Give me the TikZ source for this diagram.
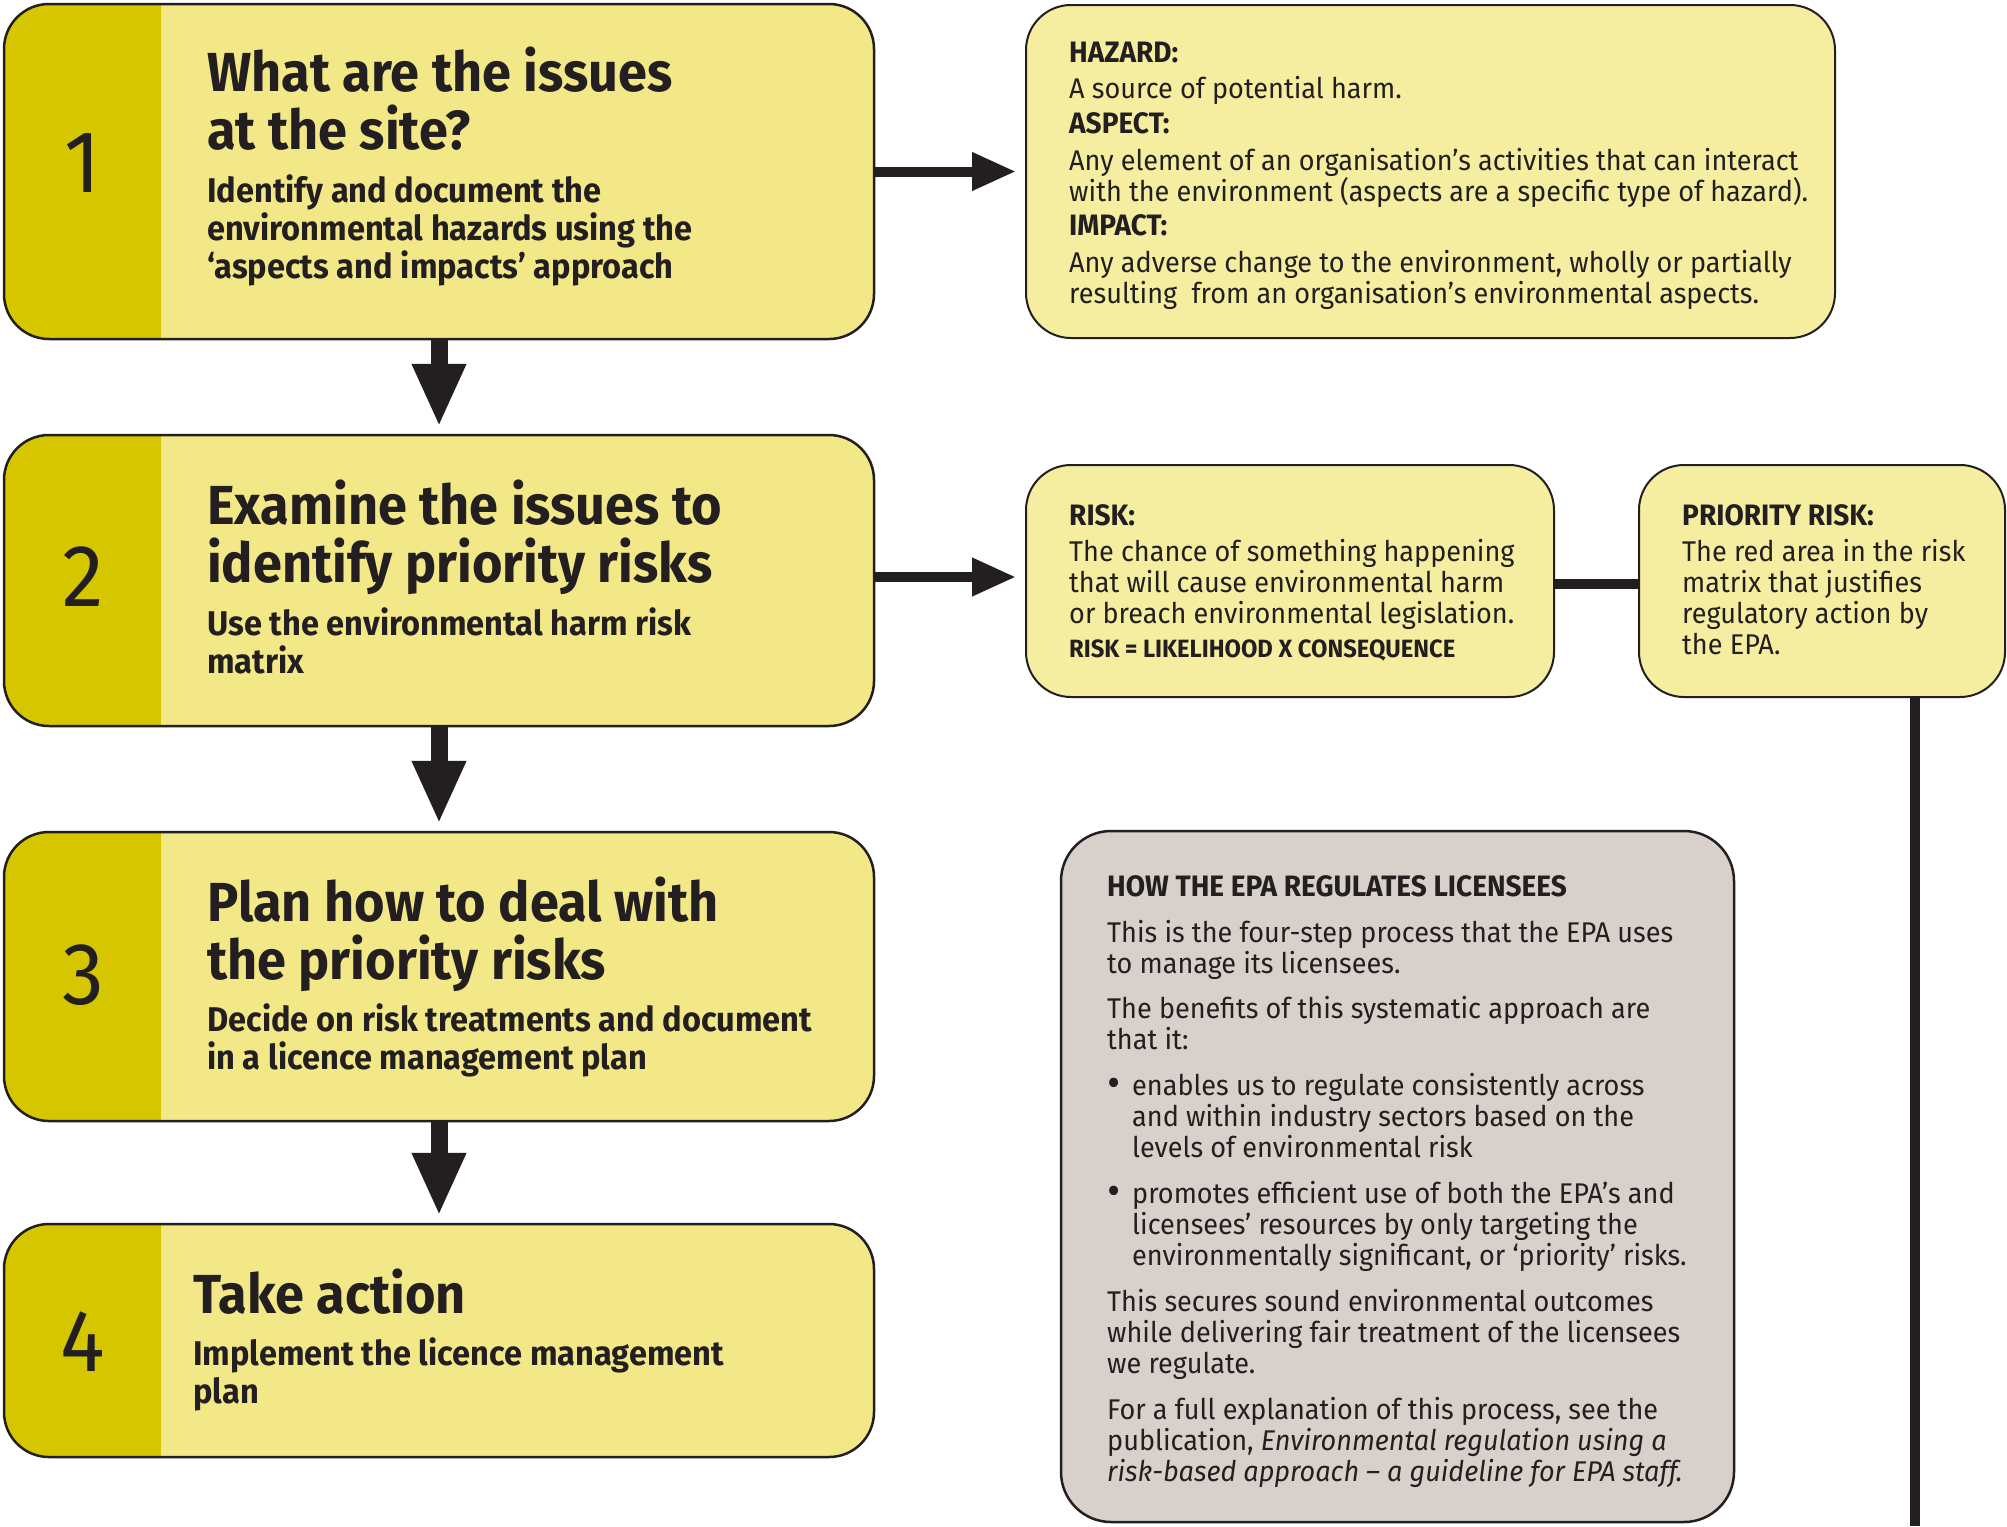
\documentclass[tikz,border=0pt]{standalone}
\usepackage{fontspec}
\setmainfont{Fira Sans}[FakeStretch=0.95]
\usetikzlibrary{arrows.meta}
\definecolor{ink}{HTML}{231F20}
\definecolor{strip}{HTML}{D6C600}
\definecolor{stepfill}{HTML}{F3E887}
\definecolor{deffill}{HTML}{F5EEA0}
\definecolor{epafill}{HTML}{D8D1CB}
\newcommand\blk[1]{\vtop{\halign{##\hfil\cr#1\crcr}}}
\tikzset{
  stepbox/.style={draw=ink, line width=2.5pt, fill=stepfill, rounded corners=45pt,
    inner sep=0pt, path picture={\fill[strip, sharp corners] ([xshift=-5pt,yshift=5pt]path picture bounding box.north west) rectangle ([xshift=157pt,yshift=-5pt]path picture bounding box.south west);}},
  defbox/.style={draw=ink, line width=2pt, fill=deffill, rounded corners=45pt, inner sep=0pt},
  epabox/.style={draw=ink, line width=2.5pt, fill=epafill, rounded corners=50pt, inner sep=0pt},
  txt/.style={anchor=base west, inner sep=0pt, text=ink},
  num/.style={anchor=center, inner sep=0pt, text=ink, font={\fontsize{88}{88}\selectfont}},
  ttl/.style={txt, font={\bfseries\fontsize{55}{58}\selectfont}},
  sub/.style={txt, font={\bfseries\fontsize{34.3}{38}\selectfont}},
  dhead/.style={txt, font={\bfseries\fontsize{29.5}{31}\selectfont}},
  dbody/.style={txt, font={\fontsize{28.5}{31}\selectfont}},
  bul/.style={anchor=center, inner sep=0pt, text=ink, font={\bfseries\fontsize{34}{34}\selectfont}},
  darrow/.style={draw=ink, line width=17pt, -{Triangle[length=63pt,width=50pt]}, shorten >=7pt},
  rarrow/.style={draw=ink, line width=10pt, -{Triangle[length=44pt,width=36pt]}, shorten >=9pt},
  conn/.style={draw=ink, line width=10pt}
}
\begin{document}
\begin{tikzpicture}[x=1pt,y=-1pt]
\useasboundingbox[fill=white] (0,0) rectangle (2007,1526);
% step boxes
\node[stepbox, minimum width=870pt, minimum height=335pt] (b1) at (439,171.5) {};
\node[stepbox, minimum width=870pt, minimum height=291pt] (b2) at (439,580.5) {};
\node[stepbox, minimum width=870pt, minimum height=289pt] (b3) at (439,976.5) {};
\node[stepbox, minimum width=870pt, minimum height=233pt] (b4) at (439,1340.5) {};
% definition boxes
\node[defbox, minimum width=809pt, minimum height=333pt] (haz) at (1430.5,171.5) {};
\node[defbox, minimum width=528pt, minimum height=232pt] (risk) at (1290,581) {};
\node[defbox, minimum width=366pt, minimum height=232pt] (prio) at (1822,581) {};
\node[epabox, minimum width=673pt, minimum height=691pt] (epa) at (1397.5,1176.5) {};
% connectors
\draw[darrow] (b1.south) -- (b2.north);
\draw[darrow] (b2.south) -- (b3.north);
\draw[darrow] (b3.south) -- (b4.north);
\draw[rarrow] (b1.east) -- (haz.west);
\draw[rarrow] ([yshift=3.5pt]b2.east) -- ([yshift=3.5pt]b2.east -| risk.west);
\draw[conn] ([yshift=-3pt]risk.east) -- ([yshift=-3pt]prio.west);
\coordinate (vend) at (1915,1526);
\draw[conn] (prio.south -| vend) -- (vend);
% numbers
\node[num] (n1) at (83,163) {1};
\node[num] (n2) at (83,577) {2};
\node[num] (n3) at (83,975) {3};
\node[num] (n4) at (83,1342) {4};
% step texts
\node[ttl] (t1) at (207,91) {\blk{What are the issues\cr at the site?}};
\node[sub] (s1) at (207,202) {\blk{Identify and document the\cr environmental hazards using the\cr ‘aspects and impacts’ approach}};
\node[ttl] (t2) at (207,524) {\blk{Examine the issues to\cr identify priority risks}};
\node[sub] (s2) at (207,635) {\blk{Use the environmental harm risk\cr matrix}};
\node[ttl] (t3) at (207,921) {\blk{Plan how to deal with\cr the priority risks}};
\node[sub] (s3) at (207,1031) {\blk{Decide on risk treatments and document\cr in a licence management plan}};
\node[ttl] (t4) at (193,1313) {Take action};
\node[sub] (s4) at (193,1365) {\blk{Implement the licence management\cr plan}};
% hazard box
\node[dhead] (hh) at (1069,62) {HAZARD:};
\node[dbody] (hb) at (1069,98) {A source of potential harm.};
\node[dhead] (ah) at (1069,133) {ASPECT:};
\node[dbody] (ab) at (1069,170) {\blk{Any element of an organisation’s activities that can interact\cr with the environment (aspects are a specific type of hazard).}};
\node[dhead] (ih) at (1069,235) {IMPACT:};
\node[dbody] (ib) at (1069,272) {\blk{Any adverse change to the environment, wholly or partially\cr resulting\ \ from an organisation’s environmental aspects.}};
% risk box
\node[dhead] (rh) at (1069,525) {RISK:};
\node[dbody] (rb) at (1069,561) {\blk{The chance of something happening\cr that will cause environmental harm\cr or breach environmental legislation.}};
\node[txt, font={\bfseries\fontsize{25}{25}\selectfont}] (rf) at (1069,657) {RISK = LIKELIHOOD X CONSEQUENCE};
% priority box
\node[dhead] (ph) at (1682,525) {PRIORITY RISK:};
\node[dbody] (pb) at (1682,561) {\blk{The red area in the risk\cr matrix that justifies\cr regulatory action by\cr the EPA.}};
% EPA box
\node[dhead] (eh) at (1107,896) {HOW THE EPA REGULATES LICENSEES};
\node[dbody] (e1) at (1107,942) {\blk{This is the four-step process that the EPA uses\cr to manage its licensees.}};
\node[dbody] (e2) at (1107,1018) {\blk{The benefits of this systematic approach are\cr that it:}};
\node[bul] (eb1) at (1114,1086) {•};
\node[dbody] (e3) at (1132,1095) {\blk{enables us to regulate consistently across\cr and within industry sectors based on the\cr levels of environmental risk}};
\node[bul] (eb2) at (1114,1194) {•};
\node[dbody] (e4) at (1132,1203) {\blk{promotes efficient use of both the EPA’s and\cr licensees’ resources by only targeting the\cr environmentally significant, or ‘priority’ risks.}};
\node[dbody] (e5) at (1107,1311) {\blk{This secures sound environmental outcomes\cr while delivering fair treatment of the licensees\cr we regulate.}};
\node[dbody] (e6) at (1107,1419) {\blk{For a full explanation of this process, see the\cr publication, \itshape Environmental regulation using a\cr \itshape risk-based approach – a guideline for EPA staff.}};
\end{tikzpicture}
\end{document}
